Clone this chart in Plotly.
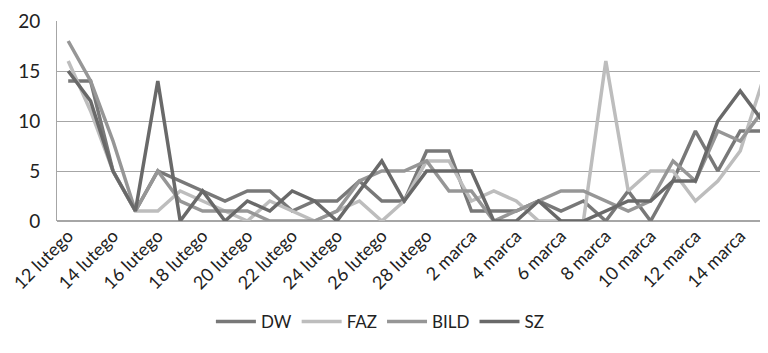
import plotly.graph_objects as go

days = [f"{d} lutego" for d in range(12, 29)] + [f"{d} marca" for d in range(1, 16)]
tick_labels = days[::2]

dw   = [14, 14, 5, 1, 5, 4, 3, 2, 3, 3, 1, 2, 2, 4, 2, 2, 7, 7, 1, 1, 1, 2, 1, 2, 0, 3, 0, 4, 9, 5, 9, 9]
faz  = [16, 11, 5, 1, 1, 3, 2, 1, 0, 2, 1, 0, 1, 2, 0, 2, 6, 6, 2, 3, 2, 0, 0, 0, 16, 3, 5, 5, 2, 4, 7, 14]
bild = [18, 14, 8, 1, 5, 2, 1, 1, 1, 0, 0, 0, 1, 4, 5, 5, 6, 3, 3, 0, 1, 2, 3, 3, 2, 1, 2, 6, 4, 9, 8, 11]
sz   = [15, 12, 5, 1, 14, 0, 3, 0, 2, 1, 3, 2, 0, 3, 6, 2, 5, 5, 5, 0, 0, 2, 0, 0, 1, 2, 2, 4, 4, 10, 13, 10]

series = [("DW", dw, "#787878"), ("FAZ", faz, "#bdbdbd"), ("BILD", bild, "#969696"), ("SZ", sz, "#696969")]

fig = go.Figure()
for name, vals, col in series:
    fig.add_trace(go.Scatter(x=days, y=vals, mode="lines", name=name,
                             line=dict(color=col, width=3.5)))

font = "Lato, 'Open Sans', sans-serif"
# the page body adds an 8 px margin, so the figure is 8 px smaller and shifted margins
fig.update_layout(
    width=760, height=345,
    margin=dict(l=49, r=0, t=13, b=132),
    paper_bgcolor="white", plot_bgcolor="white",
    font=dict(family=font, size=16, color="#222222"),
    showlegend=True,
    legend=dict(orientation="h", xref="container", x=0.49, xanchor="center",
                yref="container", y=0.09, yanchor="middle",
                font=dict(size=17, color="#222222"), itemwidth=40, tracegroupgap=0),
    xaxis=dict(type="category", range=[-0.5, 31.24], tickvals=tick_labels, ticktext=tick_labels,
               tickangle=-45, showgrid=False, showline=False, ticks="", automargin=False,
               tickfont=dict(size=18)),
    yaxis=dict(range=[0, 20], tickvals=[0, 5, 10, 15, 20], showgrid=True, gridcolor="#a6a6a6",
               gridwidth=1, zeroline=True, zerolinecolor="#a6a6a6", showline=True, linecolor="#a6a6a6",
               ticks="", ticklabelstandoff=12, automargin=False, tickfont=dict(size=19)),
)

fig.write_html("out.html")
